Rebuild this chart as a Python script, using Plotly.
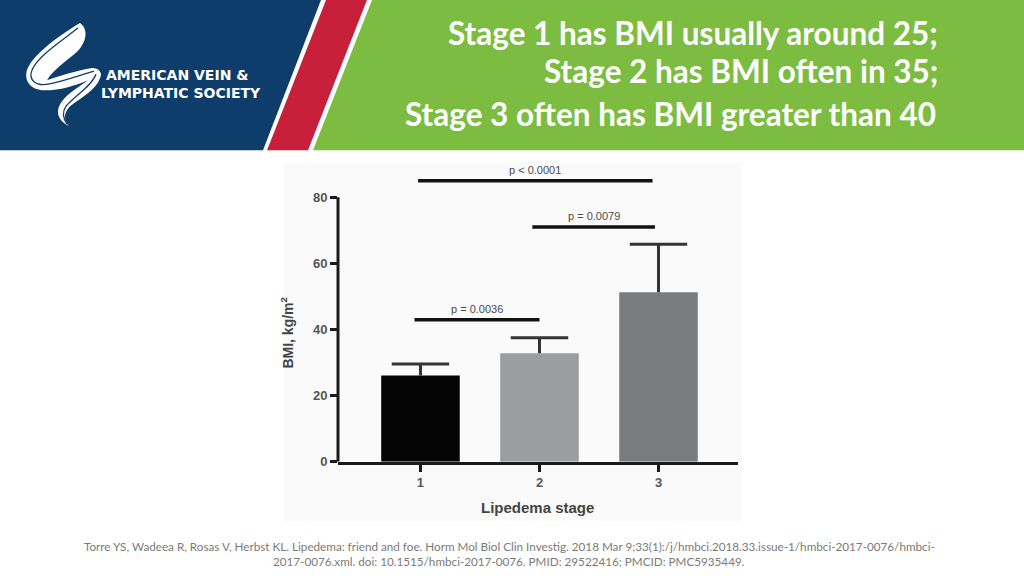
import plotly.graph_objects as go

# data
stages = [1, 2, 3]
stage_labels = ["1", "2", "3"]
bmi_mean = [26.1, 32.8, 51.3]
bmi_sd_upper = [3.5, 4.7, 14.5]
y_ticks = [0, 20, 40, 60, 80]

sig_labels = ["p = 0.0036", "p = 0.0079", "p < 0.0001"]
sig_from = [0.95, 1.94, 0.98]
sig_to = [2.0, 2.97, 2.95]
sig_level = [43, 71, 85]

title_lines = [
    "Stage 1 has BMI usually around 25;",
    "Stage 2 has BMI often in 35;",
    "Stage 3 often has BMI greater than 40",
]
citation = [
    "Torre YS, Wadeea R, Rosas V, Herbst KL. Lipedema: friend and foe. Horm Mol Biol Clin Investig. "
    "2018 Mar 9;33(1):/j/hmbci.2018.33.issue-1/hmbci-2017-0076/hmbci-",
    "2017-0076.xml. doi: 10.1515/hmbci-2017-0076. PMID: 29522416; PMCID: PMC5935449.",
]

W, H = 1024, 576
FIG_H = 585  # the page gets squeezed a little vertically when photographed
INK = "#333333"
BLUE = "#0f3d6b"

fig = go.Figure()

# first subplot: invisible pixel-space canvas for the slide decoration
fig.add_trace(go.Scatter(x=[0], y=[0], mode="markers", marker={"opacity": 0},
                         hoverinfo="skip", showlegend=False))

# second subplot: the bar chart
fig.add_trace(
    go.Bar(
        x=stages,
        y=bmi_mean,
        xaxis="x2",
        yaxis="y2",
        width=0.66,
        marker={"color": ["#050505", "#9c9d9f", "#7b7c7e"], "line": {"width": 0}},
        hoverinfo="skip",
        showlegend=False,
    )
)

# upper-only error whiskers with a cap at the top
wx, wy = [], []
for s, m, e in zip(stages, bmi_mean, bmi_sd_upper):
    wx += [s, s, None]
    wy += [m, m + e, None]
fig.add_trace(go.Scatter(x=wx, y=wy, xaxis="x2", yaxis="y2", mode="lines",
                         line={"color": INK, "width": 3}, hoverinfo="skip", showlegend=False))
fig.add_trace(go.Scatter(x=stages, y=[m + e for m, e in zip(bmi_mean, bmi_sd_upper)],
                         xaxis="x2", yaxis="y2", mode="markers",
                         marker={"symbol": "line-ew", "size": 41, "line": {"color": INK, "width": 3}},
                         hoverinfo="skip", showlegend=False))

# significance brackets
for lab, x0, x1, lvl in zip(sig_labels, sig_from, sig_to, sig_level):
    fig.add_trace(
        go.Scatter(
            x=[x0, x1],
            y=[lvl, lvl],
            xaxis="x2",
            yaxis="y2",
            mode="lines",
            line={"color": "#111111", "width": 3.5},
            hoverinfo="skip",
            showlegend=False,
        )
    )
    fig.add_annotation(
        x=(x0 + x1) / 2, y=lvl, xref="x2", yref="y2", text=lab, showarrow=False,
        yanchor="bottom", yshift=3,
        font={"family": "Liberation Sans", "size": 11, "color": "#4a4a4a"},
    )


def poly(pts, color):
    d = "M " + " L ".join(f"{x},{y}" for x, y in pts) + " Z"
    fig.add_shape(type="path", path=d, xref="x", yref="y", fillcolor=color,
                  line={"width": 0}, layer="below")


def curve(d, fill="white", stroke=None, w=0):
    fig.add_shape(type="path", path=d, xref="x", yref="y", fillcolor=fill,
                  line={"width": w, "color": stroke or fill}, layer="below")


# header band
poly([(0, 0), (321, 0), (263, 150), (0, 150)], BLUE)
poly([(326, 0), (367, 0), (308, 150), (267, 150)], "#c8203a")
poly([(372, 0), (W, 0), (W, 150), (313, 150)], "#7cbd41")
# faint figure background
poly([(284, 162), (741, 162), (741, 520), (284, 520)], "#fafafa")

# logo ribbon
curve(
    "M 80,23 C 90,30 86,46 72,56 C 62,64 52,72 47,80 C 60,76 78,70 92,68 "
    "C 99,68 103,73 100,78 C 96,90 80,98 70,106 C 63,113 64,121 69,126 "
    "C 57,120 55,110 62,101 C 69,92 80,86 88,80 C 74,86 56,91 42,90 "
    "C 30,89 24,80 27,70 C 32,56 55,38 80,23 Z"
)
curve("M 78,28 C 60,42 38,56 32,70 C 28,80 36,86 48,84 C 64,81 80,75 94,71",
      fill="rgba(0,0,0,0)", stroke=BLUE, w=1.3)
curve("M 96,74 C 92,86 74,96 66,106 C 62,112 63,118 67,124",
      fill="rgba(0,0,0,0)", stroke=BLUE, w=1.3)

logo_font = {"family": "DejaVu Sans", "size": 14, "color": "white"}
fig.add_annotation(x=104, y=75, xref="x", yref="y", text="<b>AMERICAN VEIN &</b>",
                   showarrow=False, xanchor="left", font=logo_font)
fig.add_annotation(x=99, y=92.5, xref="x", yref="y", text="<b>LYMPHATIC SOCIETY</b>",
                   showarrow=False, xanchor="left", font=logo_font)

title_font = {"family": "Lato", "size": 31.5, "color": "white"}
fig.add_annotation(x=940, y=33, xref="x", yref="y", text=f"<b>{title_lines[0]}</b>",
                   showarrow=False, xanchor="right", font=title_font)
fig.add_annotation(x=940, y=71, xref="x", yref="y", text=f"<b>{title_lines[1]}</b>",
                   showarrow=False, xanchor="right", font=title_font)
fig.add_annotation(x=403, y=114, xref="x", yref="y", text=f"<b>{title_lines[2]}</b>",
                   showarrow=False, xanchor="left", font=title_font)

cite_font = {"family": "Lato", "size": 11.7, "color": "#7a7a7a"}
for i, line in enumerate(citation):
    fig.add_annotation(x=509, y=545 + 15 * i, xref="x", yref="y", text=line,
                       showarrow=False, font=cite_font)

# axis titles
fig.add_annotation(x=537, y=507, xref="x", yref="y", text="<b>Lipedema stage</b>",
                   showarrow=False, font={"family": "Liberation Sans", "size": 15, "color": "#444444"})
fig.add_annotation(x=287, y=332, xref="x", yref="y", text="<b>BMI, kg/m<sup>2</sup></b>",
                   textangle=-90, showarrow=False,
                   font={"family": "Liberation Sans", "size": 14, "color": "#444444"})

# y axis line only up to the top tick
fig.add_shape(type="line", xref="x2 domain", yref="y2", x0=0, x1=0, y0=0, y1=max(y_ticks),
              line={"color": "#1a1a1a", "width": 3})

tick_font = {"family": "Liberation Sans", "size": 13, "color": "#555555"}
fig.update_layout(
    width=W,
    height=FIG_H,
    margin={"l": 0, "r": 0, "t": 0, "b": 0},
    paper_bgcolor="white",
    plot_bgcolor="rgba(0,0,0,0)",
    showlegend=False,
    xaxis={"domain": [0, 1], "range": [0, W], "visible": False, "fixedrange": True},
    yaxis={"domain": [0, 1], "range": [H, 0], "visible": False, "fixedrange": True},
    xaxis2={
        "domain": [338 / W, 738 / W],
        "anchor": "y2",
        "range": [0.307, 3.668],
        "tickmode": "array",
        "tickvals": stages,
        "ticktext": [f"<b>{s}</b>" for s in stage_labels],
        "ticks": "outside",
        "ticklen": 7,
        "tickwidth": 3,
        "tickcolor": "#1a1a1a",
        "showline": True,
        "linecolor": "#1a1a1a",
        "linewidth": 3,
        "showgrid": False,
        "zeroline": False,
        "tickfont": tick_font,
        "fixedrange": True,
    },
    yaxis2={
        "domain": [1 - 461 / H, 1 - (461 - 92 * 3.3) / H],
        "anchor": "x2",
        "range": [0, 92],
        "tickmode": "array",
        "tickvals": y_ticks,
        "ticktext": [f"<b>{t}</b>" for t in y_ticks],
        "ticks": "outside",
        "ticklen": 7,
        "tickwidth": 3,
        "tickcolor": "#1a1a1a",
        "showline": False,
        "showgrid": False,
        "zeroline": False,
        "tickfont": tick_font,
        "fixedrange": True,
    },
)

page_fix = """
document.documentElement.style.margin = '0';
document.body.style.margin = '0';
"""
fig.write_html("out.html", config={"displayModeBar": False}, post_script=page_fix)
